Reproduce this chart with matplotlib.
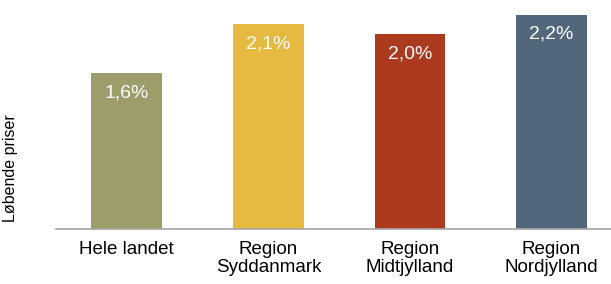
import matplotlib.pyplot as plt

plt.rcParams['font.family'] = ['Liberation Sans', 'DejaVu Sans']

categories = ['Hele landet', 'Region\nSyddanmark', 'Region\nMidtjylland', 'Region\nNordjylland']
values = [1.6, 2.1, 2.0, 2.2]
value_labels = ['1,6%', '2,1%', '2,0%', '2,2%']
colors = ['#9c9d6b', '#e6b940', '#ab3a1f', '#52677b']


def main():
	figure = plt.figure(figsize=(6.11, 2.84), dpi=100)
	axis = figure.add_axes([56 / 611, 55 / 284, 555 / 611, 229 / 284])
	positions = range(len(categories))
	bars = axis.bar(positions, values, width=0.5, color=colors)
	for bar, label in zip(bars, value_labels):
		axis.annotate(label, (bar.get_x() + bar.get_width() / 2, bar.get_height()),
		              xytext=(0, -14), textcoords='offset points',
		              ha='center', va='center', color='white', fontsize=14)
	axis.set_xlim(-0.5, 3.42)
	axis.set_ylim(0, 2.35)
	axis.set_xticks(list(positions))
	axis.set_xticklabels(categories, fontsize=13.5, linespacing=1.0)
	axis.tick_params(axis='x', length=0, pad=9)
	axis.set_yticks([])
	axis.set_ylabel('Løbende priser', fontsize=11.5)
	axis.yaxis.set_label_coords(-0.068, 0.265)
	for side in ['top', 'right', 'left']:
		axis.spines[side].set_visible(False)
	axis.spines['bottom'].set_color('#a6a6a6')
	axis.spines['bottom'].set_linewidth(1.2)
	figure.savefig('out.png', dpi=100)


if __name__ == '__main__':
	main()
